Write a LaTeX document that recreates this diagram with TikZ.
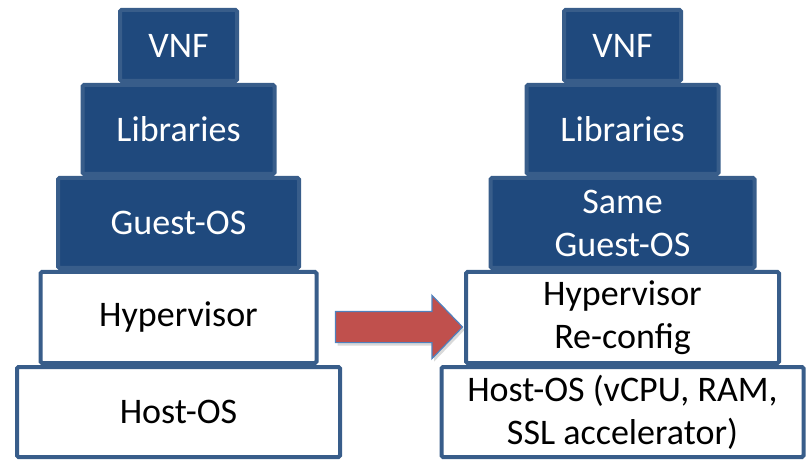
\documentclass[tikz,border=0pt]{standalone}
\usepackage{fontspec}
\setmainfont{Carlito}
\usepackage{tikz}
\usetikzlibrary{positioning,shapes.arrows,shadows}

\definecolor{layerblue}{HTML}{1F497D}
\definecolor{edgeblue}{HTML}{385D8A}
\definecolor{arrowred}{HTML}{C0504D}
\definecolor{arrowedge}{HTML}{4F81BD}

\begin{document}
\begin{tikzpicture}[
    x=1pt, y=1pt,
  layer/.style={draw=edgeblue, line width=4pt, rounded corners=1.5pt, inner sep=2pt,
                align=center, font=\fontsize{36}{43}\selectfont},
  dark/.style={layer, fill=layerblue, text=white},
  light/.style={layer, fill=white, text=black},
  bigarr/.style={single arrow, draw=arrowedge, fill=arrowred, line width=1.2pt,
                 single arrow head extend=16pt, single arrow tip angle=92,
                 minimum height=127pt, minimum width=62pt, inner xsep=0pt, inner ysep=15pt,
                 drop shadow={opacity=0.3, shadow xshift=2pt, shadow yshift=-3pt}},
  node distance=0pt
]
\useasboundingbox (0,0) rectangle (809,-465);

% ===== LEFT STACK =====
\node[dark, minimum width=117pt, minimum height=71pt] (vnfL) at (178.5,-45.5) {VNF};
\node[dark, minimum width=192pt, minimum height=89pt, below=of vnfL] (libL) {Libraries};
\node[dark, minimum width=241pt, minimum height=90pt, below=of libL] (guestL) {Guest-OS};
\node[light, minimum width=276pt, minimum height=91pt, below=of guestL] (hypL) {Hypervisor};
\node[light, minimum width=323pt, minimum height=90pt, below=of hypL] (hostL) {Host-OS};

% ===== RIGHT STACK =====
\node[dark, minimum width=117pt, minimum height=71pt] (vnfR) at (622.5,-45.5) {VNF};
\node[dark, minimum width=192pt, minimum height=89pt, below=of vnfR] (libR) {Libraries};
\node[dark, minimum width=264pt, minimum height=90pt, below=of libR] (guestR) {Same\\Guest-OS};
\node[light, minimum width=313pt, minimum height=91pt, below=of guestR] (hypR) {Hypervisor\\Re-config};
\node[light, minimum width=362pt, minimum height=90pt, below=of hypR] (hostR) {Host-OS (vCPU, RAM,\\SSL accelerator)};

% ===== ARROW =====
\node[bigarr] (move) at (391.5,-327) {};

\end{tikzpicture}
\end{document}
